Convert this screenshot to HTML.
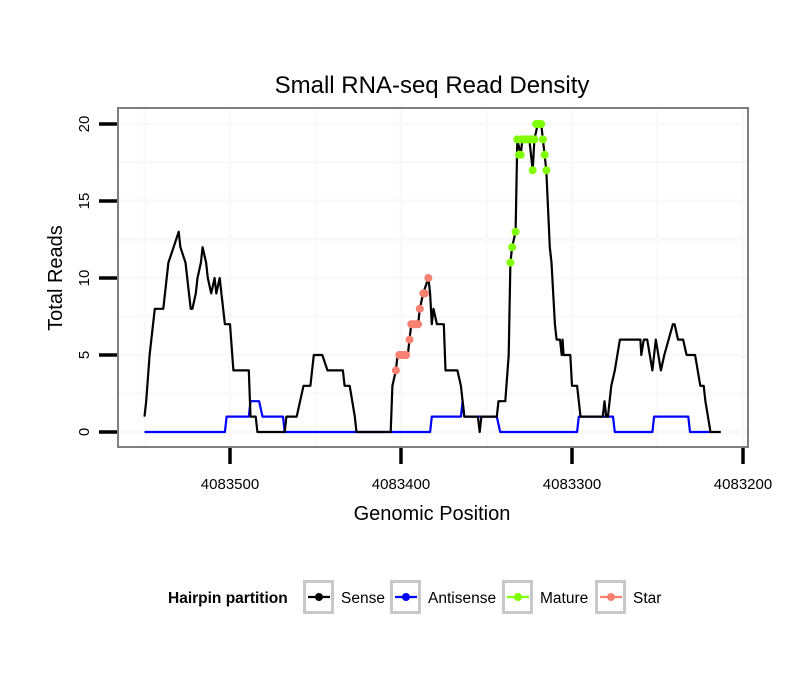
<!DOCTYPE html>
<html><head><meta charset="utf-8"><style>
body{margin:0;background:#fff;}
svg text{font-family:"Liberation Sans",sans-serif;}
</style></head><body>
<svg id="chart" width="810" height="690" xmlns="http://www.w3.org/2000/svg">
<rect width="810" height="690" fill="#fff"/>
<text x="432" y="93" font-size="24" text-anchor="middle">Small RNA-seq Read Density</text>
<g id="grid"></g>
<g id="series"></g>
<rect x="118" y="108" width="630" height="339" fill="none" stroke="#7f7f7f" stroke-width="2"/>
<g id="axes"></g>
<text x="432" y="520" font-size="20" text-anchor="middle">Genomic Position</text>
<text transform="translate(62,278) rotate(-90)" font-size="20" text-anchor="middle">Total Reads</text>
<g id="legend">
<text x="168" y="603" font-size="15.5" font-weight="bold">Hairpin partition</text>
</g>
</svg>
<script>
const senseBase=4083000;
const sensePos=[550,549,547,544,539,537,536,533,530,529,526,523,522,520,519,517,516,514,513,511,509,508,506,505,503,500,498,489,488,485,484,468,467,461,459,457,453,451,446,443,434,433,430,427,426,406,405,403,402,396,395,394,390,389,387,384,383,382,381,379,375,374,367,365,363,355,354,353,344,343,339,337,336,335,333,332,330,329,325,323,322,320,318,317,316,315,313,312,310,309,307,306,305.5,305,301,300,297,295,282,281,280,279,277,275,272,260,259.5,258,256,253,251,248,246,241,240,238,235,233,228,225,223,222,219,213];
const senseVals=[1,2,5,8,8,10,11,12,13,12,11,8,8,9,10,11,12,11,10,9,10,9,10,9,7,7,4,4,1,1,0,0,1,1,2,3,3,5,5,4,4,3,3,1,0,0,3,4,5,5,6,7,7,8,9,10,9,7,8,7,7,4,4,3,1,1,0,1,1,2,2,5,11,12,13,19,18,19,19,17,19,20,20,19,18,17,12,11,7,6,6,5,6,5,5,3,3,1,1,2,1,1,3,4,6,6,5,6,6,4,6,4,5,7,7,6,6,5,5,3,3,2,0,0];
const antiPos=[550,503,502,489,488,483,481,469,468,383,382,365,364,363,344,342,297,296,276,275,253,252,232,231,219];
const antiVals=[0,0,1,1,2,2,1,1,0,0,1,1,2,1,1,0,0,1,1,0,0,1,1,0,0];
const starPos=[403,401,400,399,398,397,395,394,393,392,391,390,389,387,386,384];
const starVals=[4,5,5,5,5,5,6,7,7,7,7,7,8,9,9,10];
const maturePos=[336,335,333,332,331,330,329,328,327,326,325,324,323,322,321,320,319,318,317,316,315];
const matureVals=[11,12,13,19,18,18,19,19,19,19,19,19,17,19,20,20,20,20,19,18,17];
const xTicks=[4083500,4083400,4083300,4083200];
const yTicks=[0,5,10,15,20];
const legendLabels=["Sense","Antisense","Mature","Star"];
const legendColors=["#000000","#0000ff","#7fff00","#fa8072"];

const NS="http://www.w3.org/2000/svg";
function X(p){return 230+(4083500-p)*1.71;}
function Y(v){return 432-v*15.4;}
function mk(tag,attrs,parent){const e=document.createElementNS(NS,tag);for(const k in attrs)e.setAttribute(k,attrs[k]);parent.appendChild(e);return e;}
const grid=document.getElementById('grid'),series=document.getElementById('series'),axes=document.getElementById('axes'),legend=document.getElementById('legend');
for(let p=4083550;p>=4083150;p-=50){const x=X(p);if(x<119||x>747)continue;
 const g=mk('line',{x1:x,x2:x,y1:109,y2:446,stroke:'#f9f9f9','stroke-width':p%100===0?3:2},grid);
 }
for(let v=0;v<=22.5;v+=2.5){const y=Y(v);if(y<109||y>446)continue;
 const g=mk('line',{x1:119,x2:747,y1:y,y2:y,stroke:'#f9f9f9','stroke-width':3},grid);
 }
function line(pos,vals,color,name){
 const pts=pos.map((p,i)=>X(senseBase+p).toFixed(1)+','+Y(vals[i]).toFixed(1)).join(' ');
 const l=mk('polyline',{points:pts,fill:'none',stroke:color,'stroke-width':2.2,'stroke-linejoin':'round'},series);
 
 
}
function dots(pos,vals,color,name){
 pos.forEach((p,i)=>{const c=mk('circle',{cx:X(senseBase+p),cy:Y(vals[i]),r:4,fill:color},series);
 
 });
}
line(antiPos,antiVals,'#0000ff','antisense-line');
line(sensePos,senseVals,'#000000','sense-line');
dots(starPos,starVals,'#fa8072','star-point');
dots(maturePos,matureVals,'#7fff00','mature-point');
xTicks.forEach(t=>{const x=X(t);
 const l=mk('line',{x1:x,x2:x,y1:448,y2:464,stroke:'#000','stroke-width':3.5},axes);
 
 const tx=mk('text',{x:x,y:489,'font-size':15,'text-anchor':'middle'},axes);tx.textContent=t;
 });
yTicks.forEach(t=>{const y=Y(t);
 const l=mk('line',{x1:99,x2:117,y1:y,y2:y,stroke:'#000','stroke-width':3.5},axes);
 
 const tx=mk('text',{transform:`translate(89,${y}) rotate(-90)`,'font-size':15,'text-anchor':'middle'},axes);tx.textContent=t;
 });
const boxX=[303,390,502,595];
legendLabels.forEach((lab,i)=>{const bx=boxX[i];
 const r=mk('rect',{x:bx+1.5,y:581.5,width:28,height:31,fill:'#fff',stroke:'#c8c8c8','stroke-width':3},legend);
 
 mk('line',{x1:bx+5,x2:bx+27,y1:597,y2:597,stroke:legendColors[i],'stroke-width':2.2},legend);
 mk('circle',{cx:bx+16,cy:597,r:4,fill:legendColors[i]},legend);
 const t=mk('text',{x:bx+38,y:603,'font-size':15.5},legend);t.textContent=lab;
 });
</script>
</body></html>
